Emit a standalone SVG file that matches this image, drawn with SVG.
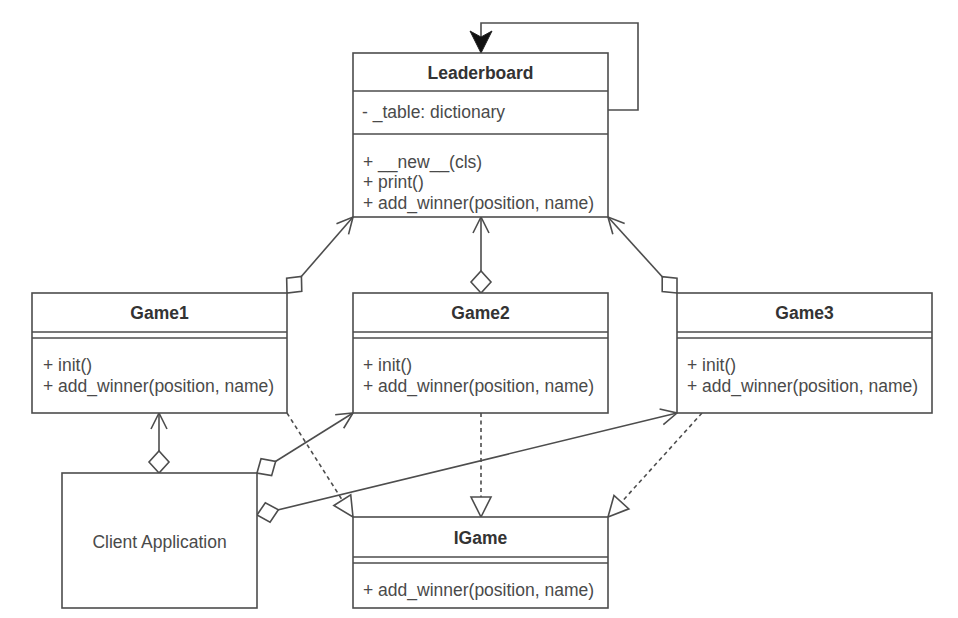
<svg xmlns="http://www.w3.org/2000/svg" width="958" height="618" viewBox="0 0 958 618">
  <style>
    .box { fill: #ffffff; stroke: #4d4d4d; stroke-width: 1.6; }
    .sep { stroke: #4d4d4d; stroke-width: 1.6; fill: none; }
    .title { font-family: "Liberation Sans", Arial, sans-serif; font-size: 17.5px; font-weight: bold; fill: #333333; text-anchor: middle; }
    .txt { font-family: "Liberation Sans", Arial, sans-serif; font-size: 17.5px; fill: #4a4a4a; }
    .mid { text-anchor: middle; }
    .link { stroke: #4d4d4d; stroke-width: 1.6; fill: none; }
    .dash { stroke-dasharray: 4 3.5; }
    .assoc { marker-start: url(#diamond); marker-end: url(#open); }
    .real { marker-end: url(#triangle); }
  </style>
  <defs>
    <marker id="open" markerUnits="userSpaceOnUse" viewBox="-20 -11 22 22" markerWidth="22" markerHeight="22" refX="0" refY="0" orient="auto">
      <path d="M-16 -8 L0 0 L-16 8" fill="none" stroke="#4d4d4d" stroke-width="1.6"/>
    </marker>
    <marker id="diamond" markerUnits="userSpaceOnUse" viewBox="-2 -13 26 26" markerWidth="26" markerHeight="26" refX="0" refY="0" orient="auto">
      <path d="M0 0 L11 -10 L22 0 L11 10 Z" fill="#ffffff" stroke="#4d4d4d" stroke-width="1.6"/>
    </marker>
    <marker id="triangle" markerUnits="userSpaceOnUse" viewBox="-23 -13 26 26" markerWidth="26" markerHeight="26" refX="0" refY="0" orient="auto">
      <path d="M0 0 L-20 -10 L-20 10 Z" fill="#ffffff" stroke="#4d4d4d" stroke-width="1.6"/>
    </marker>
    <marker id="filled" markerUnits="userSpaceOnUse" viewBox="-24 -13 26 26" markerWidth="26" markerHeight="26" refX="0" refY="0" orient="auto">
      <path d="M0 0 L-22 -11 L-16 0 L-22 11 Z" fill="#111111" stroke="#222222" stroke-width="1"/>
    </marker>
  </defs>

  <rect width="958" height="618" fill="#ffffff"/>

  <!-- connectors -->
  <g id="connectors">
    <!-- singleton self reference -->
    <path class="link" d="M608 110 H638 V23 H481 V53" marker-end="url(#filled)"/>
    <!-- games aggregate the leaderboard -->
    <path class="link assoc" d="M287 293 L353 217"/>
    <path class="link assoc" d="M481 293 L481 217"/>
    <path class="link assoc" d="M677 293 L608 217"/>
    <!-- client holds the games -->
    <path class="link assoc" d="M159 473 L159 413"/>
    <path class="link assoc" d="M257 473 L353 413"/>
    <path class="link assoc" d="M257 515 L677 413"/>
    <!-- interface realization -->
    <path class="link dash real" d="M287 413 L353 517"/>
    <path class="link dash real" d="M481 413 L481 517"/>
    <path class="link dash real" d="M702 413 L608 517"/>
  </g>

  <g id="leaderboard">
    <rect class="box" x="353" y="53" width="255" height="164"/>
    <line class="sep" x1="353" y1="91" x2="608" y2="91"/>
    <line class="sep" x1="353" y1="134" x2="608" y2="134"/>
    <text class="title" x="480.5" y="79">Leaderboard</text>
    <text class="txt" x="362" y="118">- _table: dictionary</text>
    <text class="txt" x="363" y="168">+ __new__(cls)</text>
    <text class="txt" x="363" y="188">+ print()</text>
    <text class="txt" x="363" y="209">+ add_winner(position, name)</text>
  </g>

  <g id="game1">
    <rect class="box" x="32" y="293" width="255" height="120"/>
    <line class="sep" x1="32" y1="332" x2="287" y2="332"/>
    <line class="sep" x1="32" y1="338" x2="287" y2="338"/>
    <text class="title" x="159.5" y="319">Game1</text>
    <text class="txt" x="43" y="371">+ init()</text>
    <text class="txt" x="43" y="392">+ add_winner(position, name)</text>
  </g>

  <g id="game2">
    <rect class="box" x="353" y="293" width="255" height="120"/>
    <line class="sep" x1="353" y1="332" x2="608" y2="332"/>
    <line class="sep" x1="353" y1="338" x2="608" y2="338"/>
    <text class="title" x="480.5" y="319">Game2</text>
    <text class="txt" x="363" y="371">+ init()</text>
    <text class="txt" x="363" y="392">+ add_winner(position, name)</text>
  </g>

  <g id="game3">
    <rect class="box" x="677" y="293" width="255" height="120"/>
    <line class="sep" x1="677" y1="332" x2="932" y2="332"/>
    <line class="sep" x1="677" y1="338" x2="932" y2="338"/>
    <text class="title" x="804.5" y="319">Game3</text>
    <text class="txt" x="687" y="371">+ init()</text>
    <text class="txt" x="687" y="392">+ add_winner(position, name)</text>
  </g>

  <g id="igame">
    <rect class="box" x="353" y="517" width="255" height="91"/>
    <line class="sep" x1="353" y1="557" x2="608" y2="557"/>
    <line class="sep" x1="353" y1="563" x2="608" y2="563"/>
    <text class="title" x="480.5" y="544">IGame</text>
    <text class="txt" x="363" y="596">+ add_winner(position, name)</text>
  </g>

  <g id="client-application">
    <rect class="box" x="62" y="473" width="195" height="135"/>
    <text class="txt mid" x="159.5" y="548">Client Application</text>
  </g>
</svg>
